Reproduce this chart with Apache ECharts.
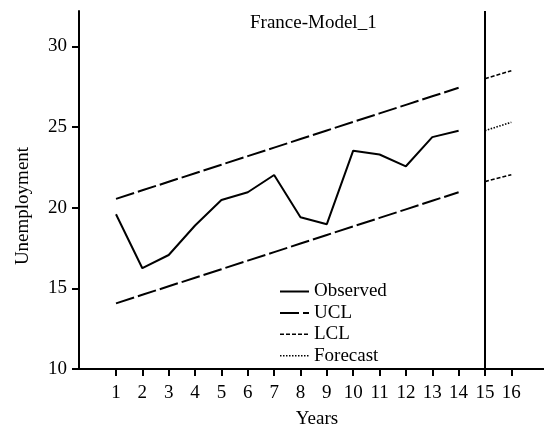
<!DOCTYPE html>
<html>
<head>
<meta charset="utf-8">
<style>html,body{margin:0;padding:0;background:#fff}#chart{width:544px;height:431px}</style>
<script src="https://cdn.jsdelivr.net/npm/echarts@6/dist/echarts.min.js"></script>
</head>
<body>
<div id="chart"></div>
<script>
const years = [1,2,3,4,5,6,7,8,9,10,11,12,13,14];
const forecastYears = [15,16];
const xTickLabels = [1,2,3,4,5,6,7,8,9,10,11,12,13,14,15,16];
const yTickLabels = [10,15,20,25,30];
const observed = [19.6,16.25,17.07,18.9,20.48,20.96,22.03,19.41,18.98,23.54,23.3,22.57,24.38,24.78];
const ucl = [20.55,21.08,21.61,22.14,22.67,23.2,23.73,24.26,24.79,25.32,25.85,26.38,26.91,27.44];
const lcl = [14.07,14.6,15.13,15.66,16.19,16.72,17.25,17.78,18.31,18.84,19.37,19.9,20.43,20.96];
const uclForecast = [28.0,28.5];
const lclForecast = [21.62,22.05];
const forecast = [24.78,25.3];
const forecastStart = 15;

const FONT = 'Liberation Serif';
const pair = (xs, ys) => xs.map((x,i)=>[x, ys[i]]);
const chart = echarts.init(document.getElementById('chart'), null, {renderer:'canvas'});
const base = {type:'line', symbol:'none', silent:true, animation:false, itemStyle:{color:'#000'}};
const hidden = {color:'rgba(0,0,0,0)', borderWidth:0, opacity:0};
chart.setOption({
  animation:false,
  backgroundColor:'#fff',
  grid:{left:79, right:0, top:11, bottom:62},
  title:{text:'France-Model_1', left:245, top:9, padding:5, textStyle:{fontFamily:FONT, fontSize:19, fontWeight:'normal', color:'#000'}},
  legend:{
    orient:'vertical', left:279, top:282, padding:0, itemWidth:29, itemHeight:14, itemGap:2.4,
    itemStyle:hidden,
    textStyle:{fontFamily:FONT, fontSize:19, color:'#000'},
    data:[
      {name:'Observed', itemStyle:hidden, lineStyle:{color:'#000', width:2, type:'solid'}},
      {name:'UCL', itemStyle:hidden, lineStyle:{color:'#000', width:2, type:[19,4]}},
      {name:'LCL', itemStyle:hidden, lineStyle:{color:'#000', width:1.6, type:[4,2]}},
      {name:'Forecast', itemStyle:hidden, lineStyle:{color:'#000', width:1.6, type:[1.5,1.5]}}
    ]
  },
  xAxis:{
    type:'value', min:-0.404, max:17.24,
    splitLine:{show:false},
    axisLine:{show:true, onZero:false, lineStyle:{color:'#000', width:2}},
    axisTick:{show:true, length:7, lineStyle:{color:'#000', width:2}, customValues:xTickLabels},
    axisLabel:{margin:15, fontFamily:FONT, fontSize:19, color:'#000', customValues:xTickLabels}
  },
  yAxis:{
    type:'value', min:10, max:32.2,
    splitLine:{show:false},
    axisLine:{show:true, onZero:false, lineStyle:{color:'#000', width:2}},
    axisTick:{show:true, length:7, lineStyle:{color:'#000', width:2}, customValues:yTickLabels},
    axisLabel:{margin:12, fontFamily:FONT, fontSize:19, color:'#000', customValues:yTickLabels}
  },
  graphic:[
    {type:'text', x:23, y:206, rotation:Math.PI/2, style:{text:'Unemployment', x:0, y:0, font:'19px "Liberation Serif"', fill:'#000', textAlign:'center', textVerticalAlign:'middle'}},
    {type:'text', x:317, y:419, style:{text:'Years', x:0, y:0, font:'19px "Liberation Serif"', fill:'#000', textAlign:'center', textVerticalAlign:'middle'}}
  ],
  series:[
    Object.assign({}, base, {name:'Observed', data:pair(years, observed), lineStyle:{color:'#000', width:2, type:'solid'},
      markLine:{silent:true, symbol:'none', label:{show:false}, lineStyle:{color:'#000', width:2, type:'solid'}, data:[{xAxis:forecastStart}]}}),
    Object.assign({}, base, {name:'UCL', data:pair(years, ucl), lineStyle:{color:'#000', width:2, type:[19,4]}}),
    Object.assign({}, base, {name:'LCL', data:pair(years, lcl), lineStyle:{color:'#000', width:2, type:[19,4]}}),
    Object.assign({}, base, {name:'UCL', data:pair(forecastYears, uclForecast), lineStyle:{color:'#000', width:1.6, type:[4,2]}}),
    Object.assign({}, base, {name:'LCL', data:pair(forecastYears, lclForecast), lineStyle:{color:'#000', width:1.6, type:[4,2]}}),
    Object.assign({}, base, {name:'Forecast', data:pair(forecastYears, forecast), lineStyle:{color:'#000', width:1.6, type:[1.5,1.5]}})
  ]
});
</script>
</body>
</html>
